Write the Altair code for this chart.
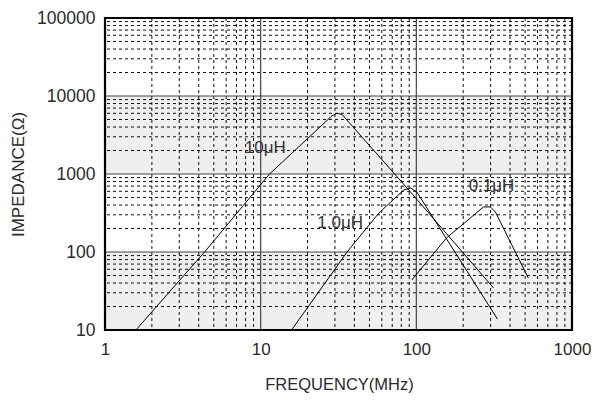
import altair as alt
import pandas as pd

# ---- data ----
freq_10uH = [1.58, 4.36, 11.4, 28.8, 31.0, 33.3, 89.4, 313]
imp_10uH = [10, 100, 1000, 5600, 6000, 5800, 624, 34.6]

freq_1uH = [15.8, 35.9, 57.5, 83, 92, 100.6, 332]
imp_1uH = [10, 100, 316, 624, 661, 589, 13.8]

freq_01uH = [93.5, 156, 270, 299, 322, 524]
imp_01uH = [43.7, 151, 378, 378, 326, 46.4]

label_text = ["10μH", "1.0μH", "0.1μH"]
label_freq = [10.7, 32.4, 304]
label_imp = [2154, 235, 702]

x_ticks = [1, 10, 100, 1000]
y_ticks = [10, 100, 1000, 10000, 100000]
x_major_grid = [10, 100]
y_major_grid = [100, 1000, 10000]
minor_mult = [2, 3, 4, 5, 6, 7, 8, 9]
x_decades = [1, 10, 100]
y_decades = [10, 100, 1000, 10000]
band_lo = [10, 1000]
band_hi = [100, 10000]

# ---- tables ----
rows = []
for name, fs, zs in [("10μH", freq_10uH, imp_10uH),
                     ("1.0μH", freq_1uH, imp_1uH),
                     ("0.1μH", freq_01uH, imp_01uH)]:
    for i, (f, z) in enumerate(zip(fs, zs)):
        rows.append({"series": name, "f": f, "z": z, "i": i})
curves = pd.DataFrame(rows)
labels = pd.DataFrame({"t": label_text, "f": label_freq, "z": label_imp})
bands = pd.DataFrame({"lo": band_lo, "hi": band_hi,
                      "f1": [x_ticks[0]] * 2, "f2": [x_ticks[-1]] * 2})
frame = pd.DataFrame({"f1": [x_ticks[0]], "f2": [x_ticks[-1]],
                      "lo": [y_ticks[0]], "hi": [y_ticks[-1]]})
x_minor = pd.DataFrame({"f": [m * d for d in x_decades for m in minor_mult]})
y_minor = pd.DataFrame({"z": [m * d for d in y_decades for m in minor_mult]})
x_major = pd.DataFrame({"f": x_major_grid})
y_major = pd.DataFrame({"z": y_major_grid})

FONT = "Liberation Sans"
TXT = "#2a2a2a"

xs = alt.Scale(type="log", domain=[1, 1000], nice=False)
ys = alt.Scale(type="log", domain=[10, 100000], nice=False)

x_axis = alt.Axis(values=x_ticks, format="d", grid=False, ticks=False, domain=False,
                  labelFontSize=17, labelFont=FONT, labelColor=TXT, labelPadding=11,
                  labelFlush=False, labelOverlap=False,
                  title="FREQUENCY(MHz)", titleFont=FONT, titleFontSize=16.5,
                  titleFontWeight="normal", titleColor=TXT,
                  titleX=234, titleY=54, titleBaseline="middle", titleAlign="center")
y_axis = alt.Axis(values=y_ticks, format="d", grid=False, ticks=False, domain=False,
                  labelFontSize=17.5, labelFont=FONT, labelColor=TXT, labelPadding=10,
                  labelFlush=False, labelOverlap=False,
                  title="IMPEDANCE(Ω)", titleFont=FONT, titleFontSize=17,
                  titleFontWeight="normal", titleColor=TXT,
                  titleX=-87, titleY=156, titleAngle=270,
                  titleBaseline="middle", titleAlign="center")

X = lambda fld: alt.X(f"{fld}:Q", scale=xs, axis=x_axis)
Y = lambda fld: alt.Y(f"{fld}:Q", scale=ys, axis=y_axis)

band_layer = alt.Chart(bands).mark_rect(color="#efefef").encode(
    x=X("f1"), x2="f2", y=Y("lo"), y2="hi")

vminor = alt.Chart(x_minor).mark_rule(color="#111111", strokeWidth=1,
                                      strokeDash=[3, 3]).encode(x=X("f"))
hminor = alt.Chart(y_minor).mark_rule(color="#111111", strokeWidth=1,
                                      strokeDash=[3, 3]).encode(y=Y("z"))
vmajor = alt.Chart(x_major).mark_rule(color="#444444", strokeWidth=1.2).encode(x=X("f"))
hmajor = alt.Chart(y_major).mark_rule(color="#444444", strokeWidth=1.2).encode(y=Y("z"))

frame_layer = alt.Chart(frame).mark_rect(fill=None, fillOpacity=0, stroke="black",
                                         strokeWidth=2.2).encode(
    x=X("f1"), x2="f2", y=Y("lo"), y2="hi")

lines = alt.Chart(curves).mark_line(color="black", strokeWidth=1).encode(
    x=X("f"), y=Y("z"), detail="series:N", order="i:Q")

text = alt.Chart(labels).mark_text(font=FONT, fontSize=17, color="#333333").encode(
    x=X("f"), y=Y("z"), text="t:N")

chart = alt.layer(band_layer, vminor, hminor, vmajor, hmajor, lines, text,
                  frame_layer).properties(
    width=467, height=312,
    autosize=alt.AutoSizeParams(type="none"),
    padding={"left": 97, "top": 10, "right": 19, "bottom": 65},
).configure_view(stroke=None).configure(background="white")

chart.save("out.html", embed_options={"renderer": "svg", "actions": False})
